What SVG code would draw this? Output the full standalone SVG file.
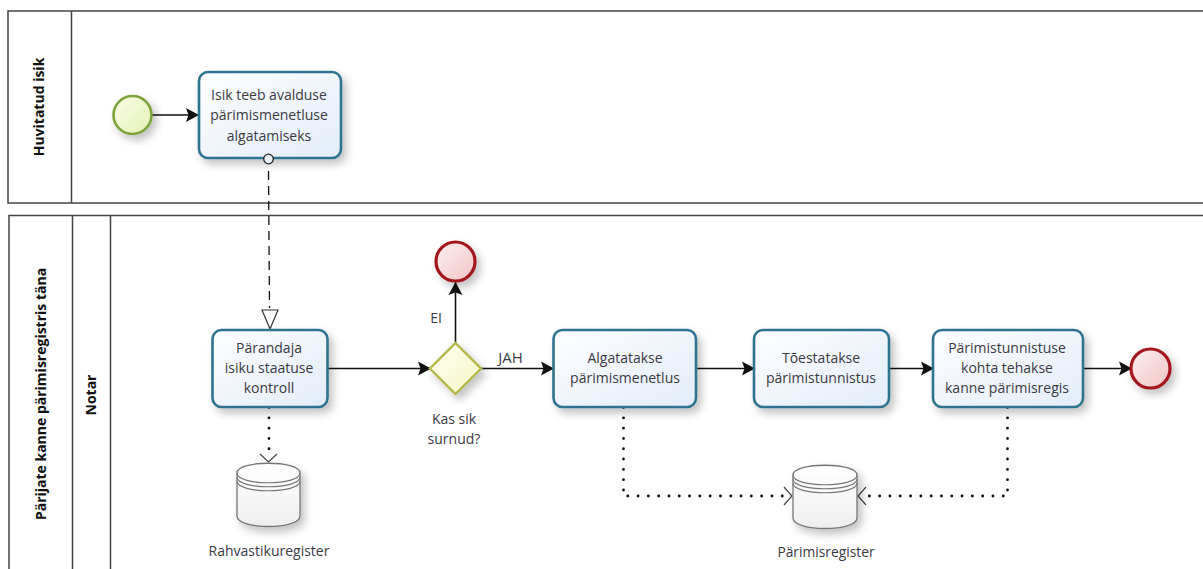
<svg xmlns="http://www.w3.org/2000/svg" width="1203" height="569" viewBox="0 0 1203 569">
<style>
text{font-family:"Open Sans","Noto Sans","Liberation Sans",sans-serif;font-size:14px;fill:#3a3a44;text-anchor:middle}
.hd{font-weight:700;font-size:14px;fill:#111}
.pool{fill:none;stroke:#444;stroke-width:1.5}
.task{fill:url(#tg);stroke:#2f7390;stroke-width:2.6;filter:url(#sh)}
.flow{fill:none;stroke:#111;stroke-width:1.6;marker-end:url(#ah)}
.data{fill:none;stroke:#111;stroke-width:2.8;stroke-dasharray:0.1 10.2;stroke-linecap:round}
.store{fill:url(#sg);stroke:#777;stroke-width:1.3}
.sl{fill:none;stroke:#777;stroke-width:1.2}
.open{fill:none;stroke:#444;stroke-width:1.2}
.endc{fill:url(#eg);stroke:#a3141f;stroke-width:3.2;filter:url(#sh)}
</style>
<defs>
<linearGradient id="tg" x1="0" y1="0" x2="1" y2="1"><stop offset="0" stop-color="#fdfeff"/><stop offset="1" stop-color="#e3ecf8"/></linearGradient>
<linearGradient id="sg" x1="0" y1="0" x2="0" y2="1"><stop offset="0" stop-color="#fff"/><stop offset="1" stop-color="#efefef"/></linearGradient>
<linearGradient id="eg" x1="0" y1="0" x2="1" y2="1"><stop offset="0" stop-color="#fdf0f0"/><stop offset="1" stop-color="#f2c4c6"/></linearGradient>
<linearGradient id="gg" x1="0" y1="0" x2="1" y2="1"><stop offset="0" stop-color="#fffff4"/><stop offset="1" stop-color="#f6f6c4"/></linearGradient>
<linearGradient id="stg" x1="0" y1="0" x2="1" y2="1"><stop offset="0" stop-color="#fbfde8"/><stop offset="1" stop-color="#e2f2b4"/></linearGradient>
<filter id="sh" x="-20%" y="-20%" width="150%" height="150%"><feDropShadow dx="4" dy="5" stdDeviation="4" flood-color="#000" flood-opacity="0.24"/></filter>
<marker id="ah" markerUnits="userSpaceOnUse" markerWidth="16" markerHeight="16" refX="13" refY="8" orient="auto"><path d="M0,1 L13,8 L0,15 L2.500,8 Z" fill="#111"/></marker>
</defs>

<g id="pool-huvitatud">
<rect class="pool" x="8" y="11" width="1200" height="192"/>
<line class="pool" x1="71.500" y1="11" x2="71.500" y2="203"/>
<text class="hd" transform="translate(44,107) rotate(-90)">Huvitatud isik</text>
</g>
<g id="pool-parijate">
<rect class="pool" x="9" y="215.500" width="1200" height="360"/>
<line class="pool" x1="72.500" y1="215" x2="72.500" y2="569"/>
<line class="pool" x1="110.500" y1="215" x2="110.500" y2="569"/>
<text class="hd" transform="translate(46,394) rotate(-90)">Pärijate kanne pärimisregistris täna</text>
<text class="hd" transform="translate(96,395) rotate(-90)">Notar</text>
</g>

<g id="connectors">
<path class="flow" d="M152,115 H199"/>
<path d="M268.500,171 L269.500,308" fill="none" stroke="#111" stroke-width="1.300" stroke-dasharray="9 6"/>
<path d="M262,310 H278 L270,329 Z" fill="#fff" stroke="#333" stroke-width="1.200"/>
<path class="flow" d="M328,368.500 H431"/>
<path class="flow" d="M455.500,343 V282"/>
<path class="flow" d="M481,368.500 H554"/>
<path class="flow" d="M696,368.500 H755"/>
<path class="flow" d="M889,368.500 H934"/>
<path class="flow" d="M1083,368.500 H1132"/>
<path class="data" d="M269,407.500 V458"/>
<path class="open" d="M260,454 L268.500,462 L277,454"/>
<path class="data" d="M623.500,407.500 V496 H785"/>
<path class="open" d="M784,487 L792,496 L784,505"/>
<path class="data" d="M1007.500,407.500 V496 H866"/>
<path class="open" d="M866,487 L858,496 L866,505"/>
</g>

<g id="start"><circle cx="132.500" cy="115" r="19" fill="url(#stg)" stroke="#7da33a" stroke-width="2.600" filter="url(#sh)"/></g>
<g id="task-avaldus">
<rect class="task" x="199" y="72" width="142" height="86" rx="9"/>
<text x="269" y="100">Isik teeb avalduse</text><text x="269" y="120">pärimismenetluse</text><text x="269" y="141">algatamiseks</text>
<circle cx="268.500" cy="159" r="4.800" fill="#e8eef5" stroke="#222" stroke-width="1.300"/>
</g>
<g id="task-kontroll">
<rect class="task" x="212.500" y="330" width="115" height="77" rx="9"/>
<text x="269" y="353">Pärandaja</text><text x="269" y="373">isiku staatuse</text><text x="269" y="393">kontroll</text>
</g>
<g id="gateway">
<path d="M455.500,343 L481,368.500 L455.500,394 L430,368.500 Z" fill="url(#gg)" stroke="#b4b84a" stroke-width="2.400" filter="url(#sh)"/>
<text x="454" y="424">Kas sik</text><text x="454" y="444">surnud?</text>
</g>
<g id="end-ei"><circle class="endc" cx="455.500" cy="261.500" r="19.500"/></g>
<text x="436" y="323">EI</text>
<text x="510.500" y="363" style="font-size:15px">JAH</text>
<g id="task-algatatakse">
<rect class="task" x="553.500" y="330" width="142.500" height="77" rx="9"/>
<text x="625" y="363">Algatatakse</text><text x="625" y="383">pärimismenetlus</text>
</g>
<g id="task-toestatakse">
<rect class="task" x="754" y="330" width="135" height="77" rx="9"/>
<text x="821" y="363">Tõestatakse</text><text x="821" y="383">pärimistunnistus</text>
</g>
<g id="task-kanne">
<rect class="task" x="933" y="330" width="150" height="77" rx="9"/>
<text x="1007" y="353">Pärimistunnistuse</text><text x="1007" y="373">kohta tehakse</text><text x="1007" y="393">kanne pärimisregis</text>
</g>
<g id="end"><circle class="endc" cx="1150.500" cy="368.500" r="19.500"/></g>
<g id="store-rahvastik">
<path class="store" filter="url(#sh)" d="M237,473 C237,460 300,460 300,473 V516 C300,530 237,530 237,516 Z"/>
<path class="sl" d="M237,473 C237,486 300,486 300,473 M237,477 C237,490 300,490 300,477 M237,481 C237,494 300,494 300,481"/>
<text x="269" y="556">Rahvastikuregister</text>
</g>
<g id="store-parimis">
<path class="store" filter="url(#sh)" d="M793,475 C793,462 857,462 857,475 V518 C857,532 793,532 793,518 Z"/>
<path class="sl" d="M793,475 C793,488 857,488 857,475 M793,479 C793,492 857,492 857,479 M793,483 C793,496 857,496 857,483"/>
<text x="826" y="557" style="font-size:13.800px">Pärimisregister</text>
</g>
</svg>
